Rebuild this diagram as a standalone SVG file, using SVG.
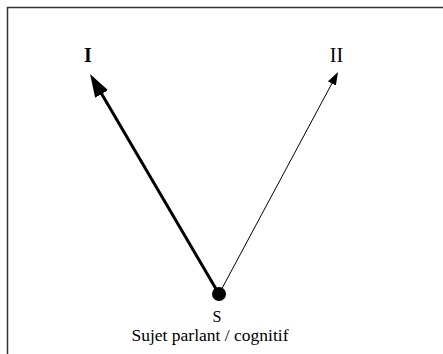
<svg xmlns="http://www.w3.org/2000/svg" width="443" height="354" viewBox="0 0 443 354">
  <style>
    .lbl { font-family: "Liberation Serif", "Times New Roman", serif; fill: #000; text-anchor: middle; }
    .frame { fill: none; stroke: #333; stroke-width: 1.5; }
    .conn { fill: none; stroke: #000; }
  </style>
  <defs>
    <marker id="headBig" markerUnits="userSpaceOnUse" markerWidth="24" markerHeight="16" refX="10" refY="7.5" orient="auto">
      <path d="M0,0 L23,7.5 L0,15 z" fill="#000"/>
    </marker>
    <marker id="headSmall" markerUnits="userSpaceOnUse" markerWidth="14" markerHeight="10" refX="7" refY="4.5" orient="auto">
      <path d="M0,0 L13,4.5 L0,9 z" fill="#000"/>
    </marker>
  </defs>
  <rect width="443" height="354" fill="#fff"/>
  <polyline class="frame" points="7.5,354 7.5,7.5 443,7.5"/>
  <g id="connectors">
    <line class="conn" x1="219" y1="294" x2="96.6" y2="85.3" stroke-width="3" marker-end="url(#headBig)"/>
    <line class="conn" x1="219" y1="294" x2="335.2" y2="77.3" stroke-width="1" marker-end="url(#headSmall)"/>
  </g>
  <g id="node-I">
    <text class="lbl" x="88" y="62" font-size="20" font-weight="bold">I</text>
  </g>
  <g id="node-II">
    <text class="lbl" x="336.5" y="62" font-size="20">II</text>
  </g>
  <g id="node-S">
    <circle cx="219" cy="294" r="7" fill="#000"/>
    <text class="lbl" x="217" y="322" font-size="16">S</text>
    <text class="lbl" x="210" y="341" font-size="17.5">Sujet parlant / cognitif</text>
  </g>
</svg>
